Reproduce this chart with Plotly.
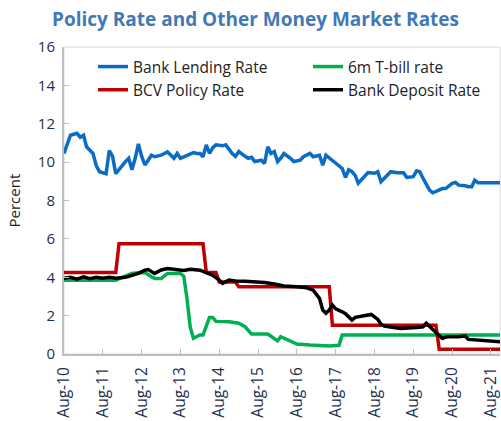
import plotly.graph_objects as go

# ---------------- data ----------------
lending_dates = ["2010-08","2010-10","2010-12","2011-01","2011-02","2011-03","2011-05","2011-06","2011-07",
                 "2011-08","2011-09","2011-10","2011-11","2011-12","2012-02","2012-03","2012-04","2012-05",
                 "2012-06","2012-07","2012-08","2012-09","2012-11","2012-12","2013-02","2013-04","2013-06",
                 "2013-07","2013-08","2013-10","2013-12","2014-01","2014-02","2014-03","2014-04","2014-05",
                 "2014-06","2014-07","2014-09","2014-10","2014-12","2015-01","2015-02","2015-04","2015-05",
                 "2015-06","2015-07","2015-09","2015-10","2015-11","2015-12","2016-01","2016-02","2016-03",
                 "2016-04","2016-06","2016-07","2016-09","2016-10","2016-12","2017-01","2017-03","2017-04",
                 "2017-05","2017-07","2017-08","2017-09","2017-10","2017-11","2017-12","2018-01","2018-02",
                 "2018-03","2018-05","2018-06","2018-08","2018-09","2018-10","2018-12","2019-01","2019-03",
                 "2019-05","2019-06","2019-08","2019-09","2019-10","2019-11","2020-01","2020-02","2020-04",
                 "2020-05","2020-06","2020-08","2020-09","2020-10","2020-12","2021-01","2021-02","2021-03",
                 "2021-04","2021-11"]
lending_rate = [10.45,11.4,11.5,11.3,11.4,10.8,10.45,9.8,9.5,
                9.45,9.4,10.6,10.3,9.4,9.85,10.03,10.2,9.6,
                10.2,10.95,10.3,9.85,10.36,10.28,10.36,10.53,10.2,
                10.45,10.2,10.36,10.5,10.45,10.45,10.28,10.9,10.45,
                10.75,10.9,10.85,10.9,10.45,10.3,10.55,10.3,10.2,
                10.25,10.03,10.1,9.93,10.8,10.45,10.55,10.03,10.2,
                10.45,10.2,10.03,10.1,10.28,10.45,10.28,10.36,9.84,
                10.36,10.1,9.93,9.84,9.67,9.2,9.6,9.5,9.3,
                8.9,9.24,9.46,9.42,9.5,8.98,9.32,9.5,9.45,
                9.45,9.2,9.24,9.55,9.5,9.15,8.54,8.4,8.54,
                8.62,8.62,8.89,8.94,8.8,8.77,8.72,8.72,9.06,
                8.93,8.93]

tbill_dates = ["2010-08","2011-12","2012-02","2012-05","2012-07","2012-09","2012-11","2012-12","2013-02",
               "2013-04","2013-08","2013-09","2013-10","2013-11","2013-12","2014-01","2014-02","2014-03",
               "2014-04","2014-05","2014-06","2014-07","2014-11","2015-02","2015-04","2015-05","2015-06",
               "2015-11","2016-01","2016-02","2016-03","2016-05","2016-07","2016-08","2016-12","2017-06",
               "2017-09","2017-10","2021-11"]
tbill_rate = [3.85,3.85,4.0,4.2,4.23,4.25,4.03,3.94,3.94,
              4.2,4.2,4.05,2.9,1.4,0.82,0.9,0.99,0.99,
              1.5,1.9,1.9,1.7,1.68,1.6,1.42,1.25,1.04,
              1.04,0.81,0.68,0.9,0.73,0.59,0.52,0.47,0.42,
              0.45,0.99,0.99]

policy_dates = ["2010-08","2011-12","2012-01","2014-03","2014-04","2014-07","2014-08","2015-01","2015-02",
                "2017-06","2017-07","2020-03","2020-04","2021-11"]
policy_rate = [4.25,4.25,5.75,5.75,4.25,4.25,3.75,3.75,3.5,
               3.5,1.5,1.5,0.25,0.25]

deposit_dates = ["2010-08","2010-10","2010-12","2011-02","2011-04","2011-06","2011-08","2011-10","2011-12",
                 "2012-03","2012-05","2012-07","2012-09","2012-10","2012-12","2013-02","2013-04","2013-07",
                 "2013-09","2013-11","2014-02","2014-04","2014-06","2014-08","2014-09","2014-11","2015-01",
                 "2015-04","2015-08","2015-10","2016-01","2016-04","2016-08","2016-11","2017-01","2017-02",
                 "2017-03","2017-04","2017-05","2017-06","2017-07","2017-08","2017-09","2017-10","2017-11",
                 "2018-01","2018-02","2018-05","2018-07","2018-09","2018-10","2018-11","2019-01","2019-04",
                 "2019-09","2019-11","2019-12","2020-01","2020-02","2020-03","2020-04","2020-05","2020-06",
                 "2020-07","2020-10","2020-12","2021-01","2021-05","2021-11"]
deposit_rate = [3.94,4.0,3.9,4.02,3.92,4.0,3.95,4.0,3.95,
                4.0,4.1,4.2,4.37,4.4,4.2,4.38,4.45,4.4,
                4.35,4.42,4.37,4.24,4.1,3.85,3.68,3.85,3.8,
                3.79,3.77,3.73,3.65,3.54,3.5,3.45,3.33,3.1,
                2.9,2.29,2.12,2.3,2.55,2.35,2.29,2.2,2.1,
                1.77,1.91,1.98,2.06,1.8,1.55,1.46,1.4,1.33,
                1.38,1.42,1.6,1.45,1.3,1.1,0.99,0.81,0.88,
                0.9,0.9,0.94,0.76,0.72,0.64]

tick_dates = ["2010-08-01","2011-08-01","2012-08-01","2013-08-01","2014-08-01","2015-08-01",
              "2016-08-01","2017-08-01","2018-08-01","2019-08-01","2020-08-01","2021-08-01"]
tick_labels = ["Aug-10","Aug-11","Aug-12","Aug-13","Aug-14","Aug-15",
               "Aug-16","Aug-17","Aug-18","Aug-19","Aug-20","Aug-21"]

# ---------------- figure ----------------
FONT = "Open Sans"
TICK_COLOR = "#1F2F4F"
TEXT_COLOR = "#222222"
fig = go.Figure()
fig.add_trace(go.Scatter(x=lending_dates, y=lending_rate, mode="lines", name="Bank Lending Rate",
                         line=dict(color="#0A6CC4", width=3.5), legend="legend"))
fig.add_trace(go.Scatter(x=tbill_dates, y=tbill_rate, mode="lines", name="6m T-bill rate",
                         line=dict(color="#00B050", width=3.5), legend="legend2"))
fig.add_trace(go.Scatter(x=policy_dates, y=policy_rate, mode="lines", name="BCV Policy Rate",
                         line=dict(color="#C00000", width=3.5), legend="legend"))
fig.add_trace(go.Scatter(x=deposit_dates, y=deposit_rate, mode="lines", name="Bank Deposit Rate",
                         line=dict(color="#000000", width=3.5), legend="legend2"))

legend_common = dict(orientation="v", xanchor="left", yanchor="top",
                     y=(354 - 50) / 307, bgcolor="rgba(0,0,0,0)", traceorder="normal",
                     font=dict(family=FONT, size=15.5, color=TEXT_COLOR))

fig.update_layout(
    width=501, height=421,
    margin=dict(l=64, r=1, t=47, b=67),
    paper_bgcolor="white", plot_bgcolor="white",
    font=dict(family=FONT, size=14, color=TEXT_COLOR),
    title=dict(text="<b>Policy Rate and Other Money Market Rates</b>",
               font=dict(family=FONT, size=19, color="#4179B5"),
               x=0.51, xanchor="center", y=1 - 19.5 / 421, yanchor="middle"),
    showlegend=True,
    legend=dict(x=(93 - 64) / 436, **legend_common),
    legend2=dict(x=(308 - 64) / 436, **legend_common),
    xaxis=dict(type="date", range=["2010-08-01", "2021-10-25"], automargin=False,
               tickmode="array", tickvals=tick_dates, ticktext=tick_labels,
               tickangle=-90, ticks="inside", ticklen=5, tickcolor="#BFBFBF", tickwidth=1,
               showline=True, linecolor="#BFBFBF", linewidth=2,
               showgrid=False, zeroline=False, ticklabeloverflow="allow",
               tickfont=dict(family=FONT, size=15.5, color=TICK_COLOR),
               ticklabelstandoff=5),
    yaxis=dict(range=[0, 16], tickmode="linear", tick0=0, dtick=2, automargin=False,
               ticks="inside", ticklen=5, tickcolor="#BFBFBF", tickwidth=1,
               showline=True, linecolor="#BFBFBF", linewidth=2,
               showgrid=False, zeroline=False,
               tickfont=dict(family=FONT, size=15, color=TICK_COLOR),
               ticklabelstandoff=4),
    shapes=[dict(type="rect", xref="paper", yref="paper", x0=0, x1=1, y0=0, y1=1,
                 line=dict(color="#D9D9D9", width=1), layer="below")],
    annotations=[dict(text="Percent", textangle=-90, xref="paper", yref="paper",
                      x=(13 - 64) / 436, y=0.5, xanchor="center", yanchor="middle",
                      showarrow=False, font=dict(family=FONT, size=15, color=TEXT_COLOR))],
)

fig.write_html("out.html", config={"displayModeBar": False},
               post_script="document.body.style.margin='0px';")
